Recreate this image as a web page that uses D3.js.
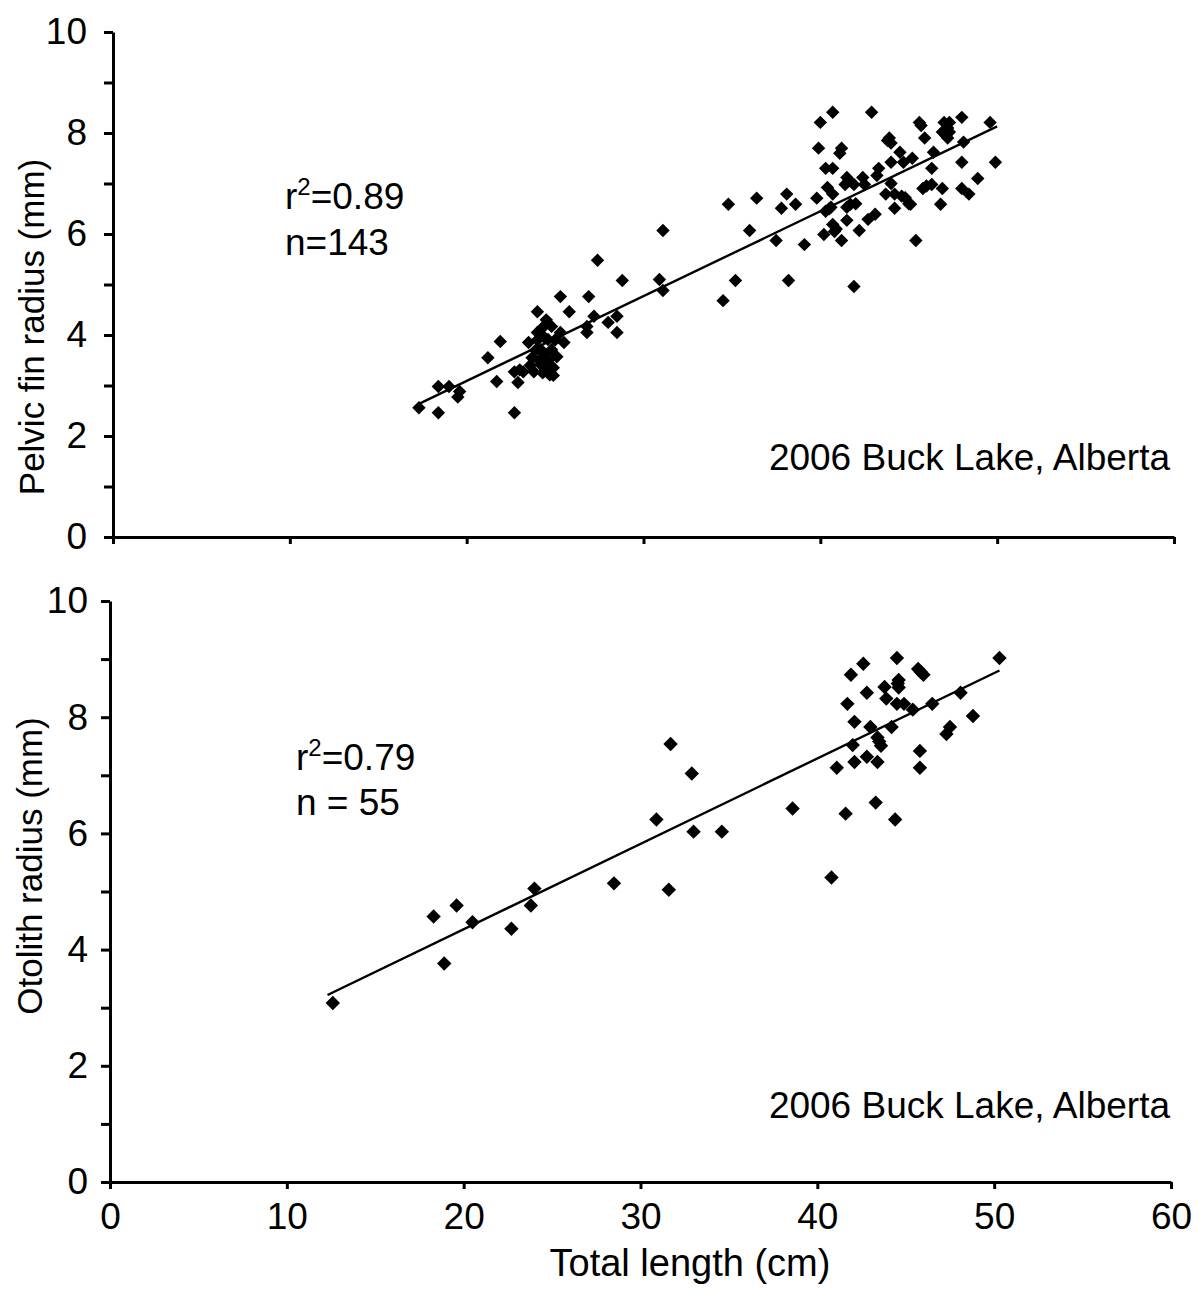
<!DOCTYPE html>
<html>
<head>
<meta charset="utf-8">
<script src="https://cdn.jsdelivr.net/npm/d3@7"></script>
<style>
  body { margin: 0; background: #fff; }
  svg { display: block; font-family: "Liberation Sans", Arial, sans-serif; }
</style>
</head>
<body>
<div id="chart"></div>
<script>
// pelvic fin radius (mm) vs total length (cm)
var pelvicPoints = [
  [17.3,2.56],[18.4,2.46],[18.4,2.98],[19.0,2.98],[19.6,2.88],[19.5,2.77],[21.2,3.55],[21.9,3.87],
  [21.7,3.08],[22.7,2.46],[22.7,3.27],[23.2,3.27],[22.9,3.06],[24.0,4.46],[25.3,4.76],[25.8,4.46],
  [26.9,4.76],[27.4,5.48],[28.8,5.08],[27.2,4.37],[26.8,4.17],[26.8,4.05],[28.0,4.25],[28.5,4.37],
  [28.5,4.05],[25.3,4.05],[25.5,3.85],[31.1,6.07],[30.9,5.10],[31.1,4.88],[34.5,4.68],[35.2,5.08],
  [34.8,6.59],[36.4,6.71],[36.0,6.07],[37.5,5.87],[38.2,5.08],[38.1,6.79],[37.8,6.51],[38.6,6.59],
  [23.5,3.85],[24.3,4.15],[24.8,4.17],[24.0,4.05],[24.6,3.91],[24.2,3.71],[24.8,3.71],[25.1,3.57],
  [23.7,3.55],[24.2,3.41],[24.5,3.35],[24.9,3.35],[23.8,3.27],[24.3,3.25],[24.7,3.21],[23.0,3.31],
  [24.4,3.60],[24.0,3.90],[24.1,3.50],[24.6,3.50],[24.4,3.95],[23.9,3.70],[25.0,3.90],[24.5,4.30],
  [23.6,3.40],[24.9,3.20],
  [40.7,8.41],[42.9,8.41],[40.0,8.21],[45.6,8.21],[47.0,8.21],[47.3,8.21],[48.0,8.31],[49.6,8.21],
  [46.9,8.02],[47.3,8.02],[47.2,7.90],[45.9,7.90],[43.9,7.90],[44.0,7.80],[48.1,7.82],[39.9,7.70],
  [41.2,7.70],[41.1,7.60],[44.5,7.62],[46.4,7.62],[45.2,7.50],[44.0,7.42],[44.7,7.42],[48.0,7.42],
  [49.9,7.42],[40.3,7.30],[40.7,7.30],[43.3,7.30],[46.3,7.30],[43.2,7.16],[48.9,7.10],[39.8,6.71],
  [41.5,7.12],[41.4,6.98],[41.9,6.98],[42.4,7.12],[42.5,6.98],[40.4,6.92],[40.7,6.79],[44.0,7.00],
  [43.7,6.79],[44.2,6.79],[44.8,6.72],[45.1,6.59],[45.8,6.90],[46.3,6.98],[46.9,6.90],[48.0,6.90],
  [48.4,6.79],[46.8,6.59],[44.2,6.51],[41.7,6.59],[41.5,6.53],[40.3,6.45],[40.6,6.53],[43.1,6.39],
  [42.7,6.29],[41.5,6.27],[40.7,6.19],[40.8,6.05],[40.2,5.99],[42.2,6.07],[41.2,5.87],[39.1,5.79],
  [45.4,5.87],[41.9,4.96],
  [47.2,8.10],[44.6,6.75],[41.6,7.05],[42.0,6.60],[45.0,6.60],[47.1,7.95],[40.5,6.50],[43.8,7.85],
  [46.0,6.95],[40.9,6.10],[45.7,8.15]
];

// otolith radius (mm) vs total length (cm)
var otolithPoints = [
  [12.6,3.08],[18.3,4.57],[19.6,4.76],[18.9,3.76],[20.5,4.47],[22.7,4.36],[23.8,4.76],[24.0,5.05],
  [28.5,5.14],[31.6,5.03],[30.9,6.24],[31.7,7.54],[32.9,7.03],[33.0,6.03],[34.6,6.03],[38.6,6.43],
  [40.8,5.24],
  [42.6,8.92],[44.5,9.02],[41.9,8.73],[45.7,8.83],[46.0,8.73],[44.6,8.64],[44.6,8.51],[43.8,8.52],
  [42.8,8.42],[41.7,8.23],[43.9,8.32],[44.5,8.23],[44.9,8.23],[45.4,8.13],[46.5,8.23],[48.1,8.42],
  [50.3,9.02],[42.1,7.92],[43.0,7.83],[44.2,7.83],[43.4,7.65],[43.6,7.51],[42.0,7.52],[47.5,7.83],
  [47.3,7.71],[48.8,8.02],[45.8,7.42],[41.1,7.13],[42.1,7.23],[42.8,7.32],[43.4,7.23],[45.8,7.13],
  [43.3,6.53],[41.6,6.34],[44.4,6.24],[44.55,8.58],[43.5,7.58],[45.85,8.78]
];

// fitted lines as drawn: [from x, to x, slope, intercept]
var pelvicFit = [17.3, 50.0, 0.168, -0.27];
var otolithFit = [12.3, 50.3, 0.147, 1.41];

var xTicks = [0, 10, 20, 30, 40, 50, 60];
var yTicks = [0, 1, 2, 3, 4, 5, 6, 7, 8, 9, 10];
var yLabelTicks = [0, 2, 4, 6, 8, 10];

var statsTop = ['0.89', 'n=143'];
var statsBottom = ['0.79', 'n = 55'];
var siteLabel = '2006 Buck Lake, Alberta';

var width = 1202,
    height = 1291,
    fontSize = 37,
    titleSize = 35;

var svg = d3.select('#chart')
  .append('svg')
  .attr('width', width)
  .attr('height', height);

var panels = [
  {
    points: pelvicPoints, fit: pelvicFit, stats: statsTop,
    xRange: [113, 1174], yRange: [537, 32],
    yTitle: 'Pelvic fin radius (mm)', yTitleX: 44, yTitleY: 327,
    statsX: 285, statsY: [209, 255], siteY: 470,
    showXLabels: false, markerSize: 90, yPad: 17
  },
  {
    points: otolithPoints, fit: otolithFit, stats: statsBottom,
    xRange: [110, 1171], yRange: [1182, 601],
    yTitle: 'Otolith radius (mm)', yTitleX: 42, yTitleY: 866,
    statsX: 296, statsY: [770, 815], siteY: 1118,
    showXLabels: true, markerSize: 104, yPad: 13
  }
];

panels.forEach(drawPanel);

// shared x title
svg.append('text')
  .attr('x', 690)
  .attr('y', 1276)
  .attr('text-anchor', 'middle')
  .style('font-size', (fontSize + 1) + 'px')
  .text('Total length (cm)');

function drawPanel(p) {
  var x = d3.scaleLinear().domain([0, 60]).range(p.xRange),
      y = d3.scaleLinear().domain([0, 10]).range(p.yRange),
      g = svg.append('g');

  var yAxis = d3.axisLeft(y)
    .tickValues(yTicks)
    .tickSize(9)
    .tickSizeOuter(0)
    .tickPadding(p.yPad)
    .tickFormat(function(d) { return yLabelTicks.indexOf(d) >= 0 ? d : ''; });

  var xAxis = d3.axisBottom(x)
    .tickValues(xTicks)
    .tickSize(7)
    .tickSizeOuter(0)
    .tickPadding(14)
    .tickFormat(function(d) { return p.showXLabels ? d : ''; });

  var gy = g.append('g')
    .attr('transform', 'translate(' + p.xRange[0] + ',0)')
    .call(yAxis);

  var gx = g.append('g')
    .attr('transform', 'translate(0,' + p.yRange[0] + ')')
    .call(xAxis);

  [gy, gx].forEach(function(a) {
    a.select('.domain').attr('stroke', '#000').attr('stroke-width', 3);
    a.selectAll('.tick line').attr('stroke', '#000').attr('stroke-width', 3);
    a.selectAll('.tick text')
      .attr('fill', '#000')
      .style('font-family', '"Liberation Sans", Arial, sans-serif')
      .style('font-size', fontSize + 'px');
  });

  // y title
  g.append('text')
    .attr('transform', 'translate(' + p.yTitleX + ',' + p.yTitleY + ') rotate(-90)')
    .attr('text-anchor', 'middle')
    .style('font-size', titleSize + 'px')
    .text(p.yTitle);

  // fitted line
  var line = d3.line()
    .x(function(d) { return x(d); })
    .y(function(d) { return y(p.fit[3] + p.fit[2] * d); });

  g.append('path')
    .datum([p.fit[0], p.fit[1]])
    .attr('d', line)
    .attr('fill', 'none')
    .attr('stroke', '#000')
    .attr('stroke-width', 2.4);

  // diamonds
  var symbol = d3.symbol().type(d3.symbolSquare).size(p.markerSize);

  g.selectAll('path.pt')
    .data(p.points)
    .enter()
    .append('path')
    .attr('class', 'pt')
    .attr('d', symbol)
    .attr('fill', '#000')
    .attr('transform', function(d) {
      return 'translate(' + x(d[0]) + ',' + y(d[1]) + ') rotate(45)';
    });

  // r^2 and n
  var r2 = g.append('text')
    .attr('x', p.statsX)
    .attr('y', p.statsY[0])
    .style('font-size', fontSize + 'px');
  r2.append('tspan').text('r');
  r2.append('tspan').attr('dy', -14).style('font-size', '24px').text('2');
  r2.append('tspan').attr('dy', 14).text('=' + p.stats[0]);

  g.append('text')
    .attr('x', p.statsX)
    .attr('y', p.statsY[1])
    .style('font-size', fontSize + 'px')
    .text(p.stats[1]);

  g.append('text')
    .attr('x', 1170)
    .attr('y', p.siteY)
    .attr('text-anchor', 'end')
    .style('font-size', fontSize + 'px')
    .text(siteLabel);
}
</script>
</body>
</html>
